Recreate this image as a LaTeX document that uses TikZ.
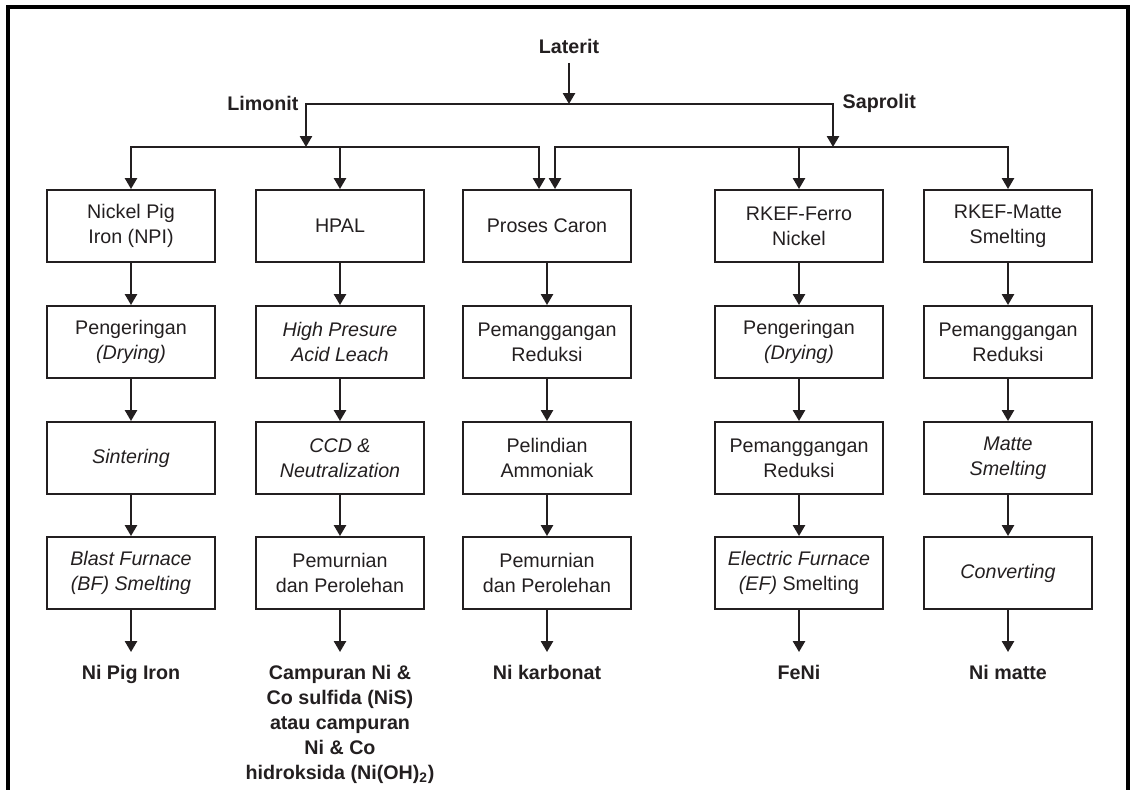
\documentclass[tikz,border=0pt]{standalone}
\usepackage{fontspec}
\setmainfont{Liberation Sans}
\usetikzlibrary{arrows.meta}
\definecolor{ink}{RGB}{35,31,32}
\tikzset{
  stage/.style={rectangle, draw=ink, line width=1.4pt, text=ink, align=center, minimum width=42mm, minimum height=18mm, inner sep=0, font=\fontsize{14}{17.8}\selectfont},
  ore/.style={text=ink, align=center, inner sep=1pt, font=\fontsize{14}{17.8}\selectfont\bfseries},
  product/.style={ore, anchor=north, inner ysep=3.25mm},
  flow/.style={draw=ink, line width=1.4pt, -{Triangle[length=2.7mm, width=3mm]}},
  frameline/.style={draw=black, line width=2.3pt}
}

\begin{document}
\begin{tikzpicture}[x=0.25mm, y=-0.25mm]
      \useasboundingbox (0, 0) rectangle (1130, 790);
      \draw[frameline](8, 800)--(8, 7)--(1128, 7)--(1128, 800);

      % ores
      \node[ore](laterit) at (569, 46){Laterit};
      \node[ore, anchor=east](limonit) at (300, 103){Limonit};
      \node[ore, anchor=west](saprolit) at (841, 103){Saprolit};
      \coordinate (split) at (569, 104);
      \coordinate (limbus) at (306, 147);
      \coordinate (sapbus) at (833, 147);

      % Nickel Pig Iron
      \node[stage](npi) at (131, 226){Nickel Pig\\Iron (NPI)};
      \node[stage](npidry) at (131, 342){Pengeringan\\\textit{(Drying)}};
      \node[stage](npisinter) at (131, 458){\textit{Sintering}};
      \node[stage](npibf) at (131, 573){\textit{Blast Furnace}\\\textit{(BF) Smelting}};
      \node[product](npiout) at (131, 652){Ni Pig Iron};

      % HPAL
      \node[stage](hpal) at (340, 226){HPAL};
      \node[stage](hpalleach) at (340, 342){\textit{High Presure}\\\textit{Acid Leach}};
      \node[stage](hpalccd) at (340, 458){\textit{CCD \&}\\\textit{Neutralization}};
      \node[stage](hpalpure) at (340, 573){Pemurnian\\dan Perolehan};
      \node[product](hpalout) at (340, 652){Campuran Ni \&\\Co sulfida (NiS)\\atau campuran\\Ni \& Co\\hidroksida (Ni(OH)\textsubscript{2})};

      % Caron
      \node[stage](caron) at (547, 226){Proses Caron};
      \node[stage](caronroast) at (547, 342){Pemanggangan\\Reduksi};
      \node[stage](caronleach) at (547, 458){Pelindian\\Ammoniak};
      \node[stage](caronpure) at (547, 573){Pemurnian\\dan Perolehan};
      \node[product](caronout) at (547, 652){Ni karbonat};

      % RKEF ferronickel
      \node[stage](ferro) at (799, 226){RKEF-Ferro\\Nickel};
      \node[stage](ferrodry) at (799, 342){Pengeringan\\\textit{(Drying)}};
      \node[stage](ferroroast) at (799, 458){Pemanggangan\\Reduksi};
      \node[stage](ferroef) at (799, 573){\textit{Electric Furnace}\\\textit{(EF)} Smelting};
      \node[product](ferroout) at (799, 652){FeNi};

      % RKEF matte
      \node[stage](matte) at (1008, 226){RKEF-Matte\\Smelting};
      \node[stage](matteroast) at (1008, 342){Pemanggangan\\Reduksi};
      \node[stage](mattesmelt) at (1008, 458){\textit{Matte}\\\textit{Smelting}};
      \node[stage](matteconv) at (1008, 573){\textit{Converting}};
      \node[product](matteout) at (1008, 652){Ni matte};

      % branching
      \draw[flow, shorten <=2mm](laterit)--(split);
      \draw[flow](split)-|(limbus);
      \draw[flow](split)-|(sapbus);
      \draw[flow](limbus)-|(npi);
      \draw[flow](limbus)-|(hpal);
      \draw[flow](limbus)-|([xshift=-2mm]caron.north);
      \draw[flow](sapbus)-|([xshift=2mm]caron.north);
      \draw[flow](sapbus)-|(ferro);
      \draw[flow](sapbus)-|(matte);

      % process chains
      \draw[flow](npi)--(npidry);
      \draw[flow](npidry)--(npisinter);
      \draw[flow](npisinter)--(npibf);
      \draw[flow](npibf)--(npiout);
      \draw[flow](hpal)--(hpalleach);
      \draw[flow](hpalleach)--(hpalccd);
      \draw[flow](hpalccd)--(hpalpure);
      \draw[flow](hpalpure)--(hpalout);
      \draw[flow](caron)--(caronroast);
      \draw[flow](caronroast)--(caronleach);
      \draw[flow](caronleach)--(caronpure);
      \draw[flow](caronpure)--(caronout);
      \draw[flow](ferro)--(ferrodry);
      \draw[flow](ferrodry)--(ferroroast);
      \draw[flow](ferroroast)--(ferroef);
      \draw[flow](ferroef)--(ferroout);
      \draw[flow](matte)--(matteroast);
      \draw[flow](matteroast)--(mattesmelt);
      \draw[flow](mattesmelt)--(matteconv);
      \draw[flow](matteconv)--(matteout);
\end{tikzpicture}
\end{document}
